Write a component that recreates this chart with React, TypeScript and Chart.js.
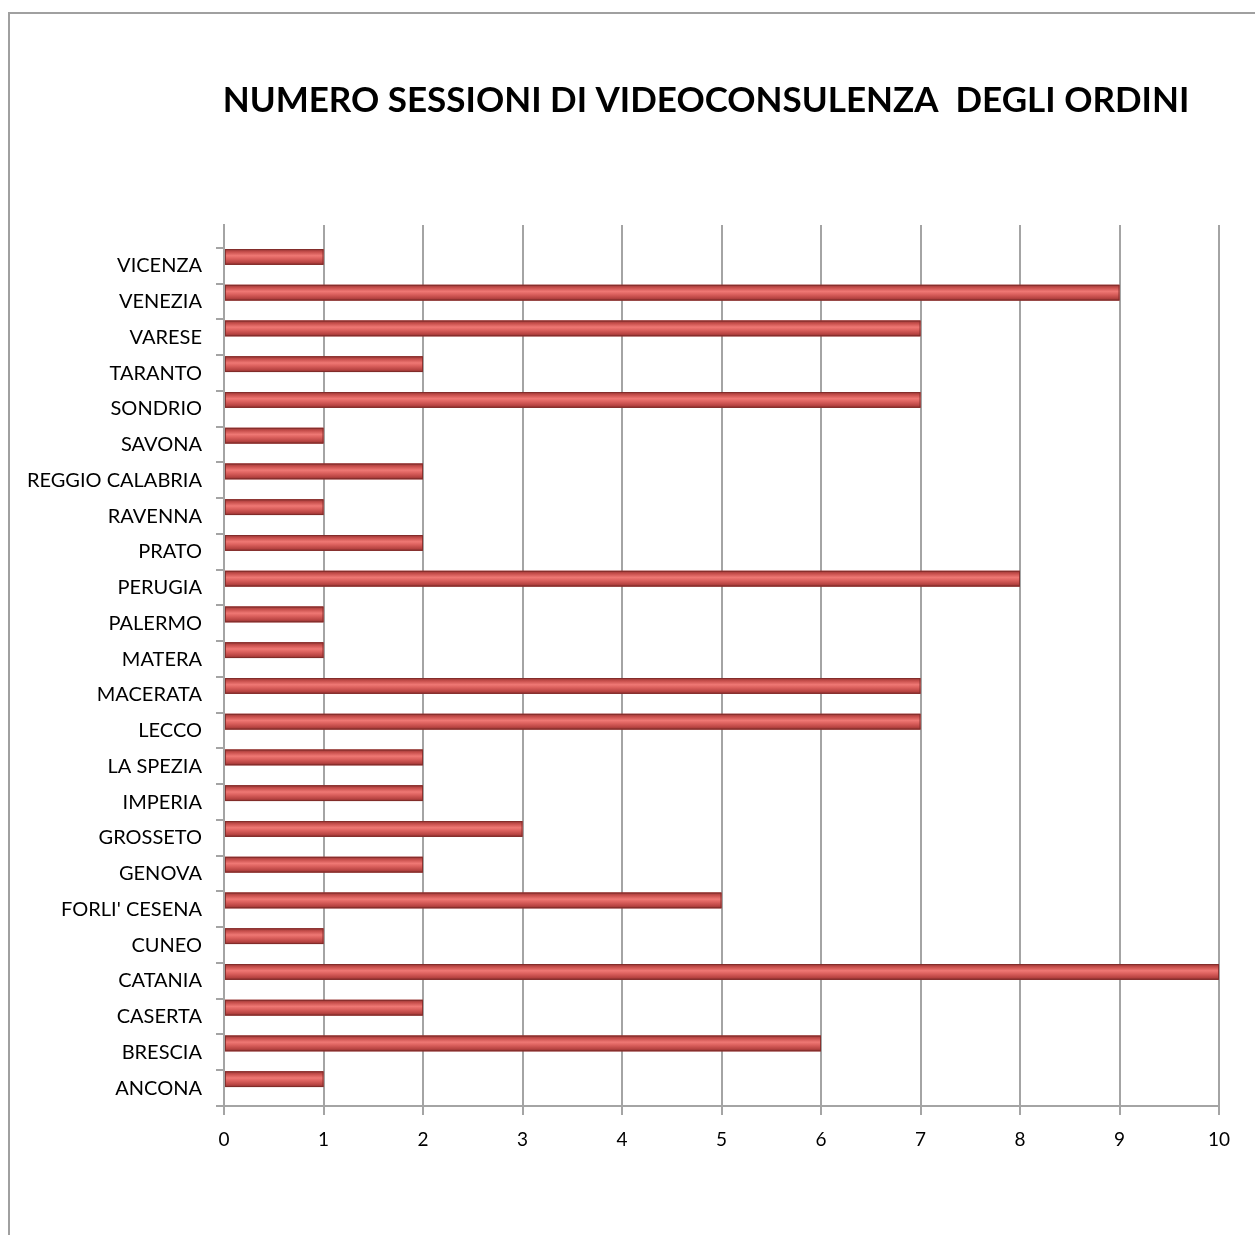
import React, { useEffect, useRef } from "react";
import { Chart, registerables } from "chart.js";

Chart.register(...registerables);

const chartTitle = "NUMERO SESSIONI DI VIDEOCONSULENZA  DEGLI ORDINI";

// bottom to top
const categories = [
  "ANCONA",
  "BRESCIA",
  "CASERTA",
  "CATANIA",
  "CUNEO",
  "FORLI' CESENA",
  "GENOVA",
  "GROSSETO",
  "IMPERIA",
  "LA SPEZIA",
  "LECCO",
  "MACERATA",
  "MATERA",
  "PALERMO",
  "PERUGIA",
  "PRATO",
  "RAVENNA",
  "REGGIO CALABRIA",
  "SAVONA",
  "SONDRIO",
  "TARANTO",
  "VARESE",
  "VENEZIA",
  "VICENZA",
];

const sessions = [1, 6, 2, 10, 1, 5, 2, 3, 2, 2, 7, 7, 1, 1, 8, 2, 1, 2, 1, 7, 2, 7, 9, 1];

const xMin = 0;
const xMax = 10;
const xStep = 1;

const FONT = 'Lato, "Noto Sans", sans-serif';
const GRID = "#a4a4a4";

export default function App() {
  const ref = useRef<HTMLCanvasElement>(null);

  useEffect(() => {
    const canvas = ref.current;
    if (!canvas) return;

    const yMin = -0.5;
    const yMax = categories.length - 0.5 + 0.643;

    const barPainter = {
      id: "barPainter",
      afterDatasetDraw(chart: any, args: any) {
        if (args.index !== 0) return;
        const ctx = chart.ctx as CanvasRenderingContext2D;
        const area = chart.chartArea;
        ctx.save();
        ctx.beginPath();
        ctx.rect(area.left, area.top, area.right - area.left, area.bottom - area.top);
        ctx.clip();
        args.meta.data.forEach((el: any) => {
          const p = el.getProps(["x", "y", "base", "height"], true);
          if (!isFinite(p.x)) return;
          const top = p.y - p.height / 2;
          const left = Math.min(p.base, p.x);
          const w = Math.abs(p.x - p.base);
          const g = ctx.createLinearGradient(0, top, 0, top + p.height);
          g.addColorStop(0, "#963634");
          g.addColorStop(0.18, "#c74f4c");
          g.addColorStop(0.42, "#ef7874");
          g.addColorStop(0.6, "#dc615e");
          g.addColorStop(0.85, "#b84442");
          g.addColorStop(1, "#8a302e");
          ctx.fillStyle = g;
          ctx.fillRect(left, top, w, p.height);
          ctx.strokeStyle = "rgba(125,42,40,0.85)";
          ctx.lineWidth = 1;
          ctx.strokeRect(left + 0.5, top + 0.5, w - 1, p.height - 1);
        });
        ctx.restore();
      },
      afterDraw(chart: any) {
        const ctx = chart.ctx as CanvasRenderingContext2D;
        ctx.save();
        ctx.font = `bold 35px ${FONT}`;
        ctx.fillStyle = "#000";
        ctx.textAlign = "center";
        ctx.textBaseline = "alphabetic";
        ctx.fillText(chartTitle, 706, 112);
        ctx.restore();
      },
    };

    const chart = new Chart(canvas, {
      type: "bar",
      data: {
        datasets: [
          {
            data: categories.map((_, i) => ({ x: sessions[i], y: i })),
            backgroundColor: "#c0504d",
            borderWidth: 0,
            yAxisID: "y",
          },
          {
            data: categories.map((_, i) => ({ x: null, y: i })),
            backgroundColor: "#4f81bd",
            borderWidth: 0,
            yAxisID: "y",
          },
        ],
      } as any,
      options: {
        animation: false,
        responsive: false,
        indexAxis: "y",
        layout: { padding: { left: 10, right: 36, top: 225, bottom: 79 } },
        datasets: { bar: { categoryPercentage: 1, barPercentage: 0.88 } },
        plugins: {
          legend: { display: false },
          tooltip: { enabled: false },
          title: { display: false },
        },
        scales: {
          x: {
            type: "linear",
            min: xMin,
            max: xMax,
            ticks: {
              stepSize: xStep,
              color: "#000",
              font: { family: FONT, size: 19 },
              padding: 13,
            },
            grid: { color: GRID, lineWidth: 2, tickLength: 9 },
            border: { color: GRID, width: 2 },
            afterFit: (s: any) => {
              s.height = 50;
            },
          },
          y: {
            type: "linear",
            position: "left",
            weight: 1,
            offset: false,
            min: yMin,
            max: yMax,
            afterBuildTicks: (s: any) => {
              s.ticks = categories.map((_, i) => ({ value: i }));
            },
            ticks: {
              autoSkip: false,
              color: "#000",
              font: { family: FONT, size: 20 },
              padding: 22,
              callback: (v: any) => categories[v as number] ?? "",
            },
            grid: { display: false, drawTicks: false, offset: false },
            border: { display: false },
            afterFit: (s: any) => {
              s.width = 214;
            },
          },
          y2: {
            type: "linear",
            position: "left",
            weight: 0,
            offset: false,
            min: yMin,
            max: yMax,
            afterBuildTicks: (s: any) => {
              s.ticks = categories
                .map((_, i) => ({ value: i - 0.5 }))
                .concat([{ value: categories.length - 0.5 }]);
            },
            ticks: { display: false },
            grid: { drawOnChartArea: false, offset: false, color: GRID, lineWidth: 2, tickLength: 8 },
            border: { color: GRID, width: 2 },
            afterFit: (s: any) => {
              s.width = 0;
            },
          },
        } as any,
      },
      plugins: [barPainter],
    });

    return () => chart.destroy();
  }, []);

  return (
    <div
      style={{
        position: "absolute",
        left: 0,
        top: 0,
        width: 1255,
        height: 1235,
        overflow: "hidden",
        background: "#fff",
      }}
    >
      <div
        style={{
          position: "absolute",
          left: 8,
          top: 12,
          width: 1400,
          height: 1400,
          border: "2px solid #a0a0a0",
          boxSizing: "border-box",
        }}
      />
      <canvas
        ref={ref}
        width={1255}
        height={1235}
        style={{ position: "absolute", left: 0, top: 0, width: 1255, height: 1235 }}
      />
    </div>
  );
}
